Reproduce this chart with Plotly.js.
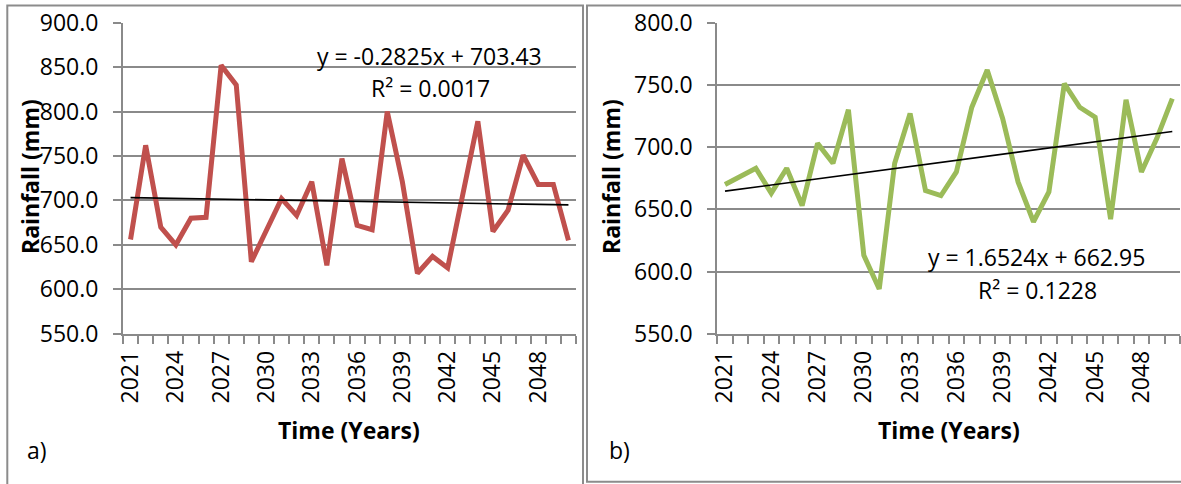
<!DOCTYPE html>
<html>
<head>
<meta charset="utf-8">
<script src="https://cdn.plot.ly/plotly-3.0.1.min.js"></script>
<style>
  html, body { margin: 0; padding: 0; background: #ffffff; }
  #chart { width: 1181px; height: 484px; }
</style>
</head>
<body>
<div id="chart"></div>
<script>
// Annual rainfall projections, 2021–2050
const years = [2021, 2022, 2023, 2024, 2025, 2026, 2027, 2028, 2029, 2030,
               2031, 2032, 2033, 2034, 2035, 2036, 2037, 2038, 2039, 2040,
               2041, 2042, 2043, 2044, 2045, 2046, 2047, 2048, 2049, 2050];

// Panel a) rainfall (mm)
const rainA = [656, 762, 670, 650, 680, 681, 852, 830, 631, 667,
               702, 683, 721, 627, 747, 672, 667, 800, 721, 618,
               637, 624, 705, 789, 665, 689, 751, 718, 718, 655];

// Panel b) rainfall (mm)
const rainB = [670, 676, 683, 663, 683, 653, 703, 687, 730, 613,
               586, 687, 727, 665, 661, 680, 732, 762, 723, 672,
               640, 664, 751, 732, 724, 642, 738, 680, 707, 739];

// Linear trend coefficients (x = 1 for the first year)
const trendA = { slope: -0.2825, intercept: 703.43, r2: '0.0017' };
const trendB = { slope: 1.6524, intercept: 662.95, r2: '0.1228' };

const yTicksA = [550, 600, 650, 700, 750, 800, 850, 900];
const yTicksB = [550, 600, 650, 700, 750, 800];
const xLabelYears = [2021, 2024, 2027, 2030, 2033, 2036, 2039, 2042, 2045, 2048];

const W = 1181, H = 484;
const px = v => v / W;
const py = v => 1 - v / H;

const FONT = 'Open Sans, Noto Sans, sans-serif';
const FS = 23;
const GRID = '#8a8a8a';

function trendY(t) {
  return years.map((yr, i) => t.slope * (i + 1) + t.intercept);
}

const traces = [
  { x: years, y: rainA, xaxis: 'x', yaxis: 'y', mode: 'lines',
    line: { color: '#C0504D', width: 5 }, hoverinfo: 'x+y' },
  { x: years, y: trendY(trendA), xaxis: 'x', yaxis: 'y', mode: 'lines',
    line: { color: '#000000', width: 1.6 }, hoverinfo: 'skip' },
  { x: years, y: rainB, xaxis: 'x2', yaxis: 'y2', mode: 'lines',
    line: { color: '#9BBB59', width: 5 }, hoverinfo: 'x+y' },
  { x: years, y: trendY(trendB), xaxis: 'x2', yaxis: 'y2', mode: 'lines',
    line: { color: '#000000', width: 1.6 }, hoverinfo: 'skip' }
];

function xAxis(domain, anchor) {
  return {
    domain: domain, anchor: anchor,
    range: [2020.5, 2050.5],
    tickmode: 'array', tickvals: xLabelYears, ticktext: xLabelYears.map(String),
    tickangle: -90,
    ticks: '', ticklen: 0,
    ticklabelstandoff: 6,
    minor: { tick0: 2020.5, dtick: 1, ticks: 'outside', ticklen: 8, tickwidth: 2, tickcolor: GRID, showgrid: false },
    showgrid: false, zeroline: false,
    showline: true, linecolor: GRID, linewidth: 2,
    tickfont: { family: FONT, size: FS, color: '#000' },
    fixedrange: true
  };
}

function yAxis(domain, anchor, ticks) {
  return {
    domain: domain, anchor: anchor,
    range: [ticks[0], ticks[ticks.length - 1]],
    tickmode: 'array', tickvals: ticks, ticktext: ticks.map(v => v.toFixed(1)),
    ticks: 'outside', ticklen: 8, tickwidth: 2, tickcolor: GRID,
    ticklabelstandoff: 10,
    showgrid: true, gridcolor: GRID, gridwidth: 2,
    zeroline: false,
    showline: true, linecolor: GRID, linewidth: 2,
    tickfont: { family: FONT, size: FS, color: '#000' },
    fixedrange: true
  };
}

const yDom = [py(333.7), py(22.7)];

function label(text, x, y, extra) {
  return Object.assign({
    text: text, x: px(x), y: py(y), xref: 'paper', yref: 'paper',
    xanchor: 'center', yanchor: 'middle', showarrow: false,
    font: { family: FONT, size: FS, color: '#000' }
  }, extra || {});
}

const layout = {
  width: W, height: H,
  margin: { l: 0, r: 0, t: 0, b: 0 },
  paper_bgcolor: '#ffffff', plot_bgcolor: '#ffffff',
  showlegend: false,
  xaxis: xAxis([px(123), px(576)], 'y'),
  yaxis: yAxis(yDom, 'x', yTicksA),
  xaxis2: xAxis([px(717.3), px(1180)], 'y2'),
  yaxis2: yAxis(yDom, 'x2', yTicksB),
  annotations: [
    label('y = ' + trendA.slope + 'x + ' + trendA.intercept, 429, 56),
    label('R² = ' + trendA.r2, 430, 88),
    label('y = ' + trendB.slope + 'x + ' + trendB.intercept, 1036, 257),
    label('R² = ' + trendB.r2, 1037, 290),
    label('<b>Rainfall (mm)</b>', 30, 177, { textangle: -90 }),
    label('<b>Rainfall (mm)</b>', 611, 177, { textangle: -90 }),
    label('<b>Time (Years)</b>', 349, 430),
    label('<b>Time (Years)</b>', 948.5, 430),
    label('a)', 37, 450),
    label('b)', 619, 450)
  ],
  shapes: [
    // panel frames
    { type: 'path', xref: 'paper', yref: 'paper',
      path: `M ${px(7.3)} ${py(490)} L ${px(7.3)} ${py(5.5)} L ${px(583)} ${py(5.5)} L ${px(583)} ${py(490)}`,
      line: { color: '#8c8c8c', width: 2 } },
    { type: 'path', xref: 'paper', yref: 'paper',
      path: `M ${px(1190)} ${py(5.5)} L ${px(587)} ${py(5.5)} L ${px(587)} ${py(481.7)} L ${px(1190)} ${py(481.7)}`,
      line: { color: '#8c8c8c', width: 2 } }
  ]
};

Plotly.newPlot('chart', traces, layout, { staticPlot: true, displayModeBar: false });
</script>
</body>
</html>
